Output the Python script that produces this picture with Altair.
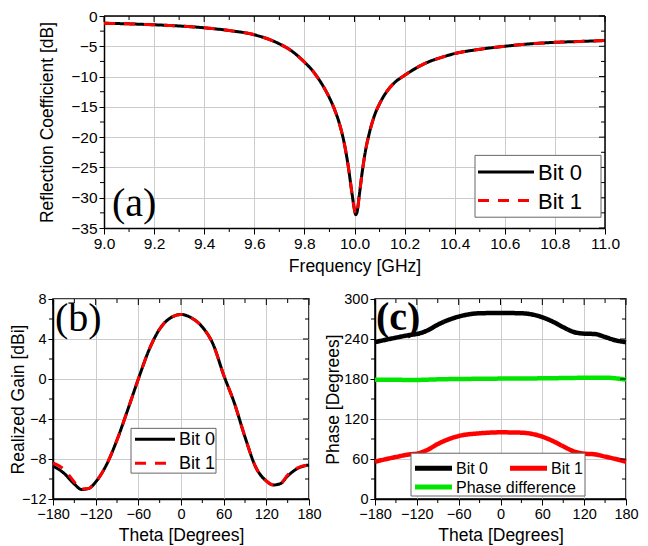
import altair as alt
import pandas as pd

# ---------------- data ----------------
freq = [9.0, 9.1, 9.2, 9.3, 9.4, 9.5, 9.6, 9.7, 9.75, 9.8, 9.83, 9.86, 9.89, 9.92,
        9.94, 9.96, 9.975, 9.99, 10.0, 10.005, 10.01, 10.02, 10.03, 10.045, 10.06,
        10.08, 10.1, 10.13, 10.16, 10.2, 10.25, 10.3, 10.35, 10.4, 10.5, 10.6, 10.7,
        10.8, 10.9, 11.0]
s11_bit0 = [-1.2, -1.3, -1.45, -1.65, -1.95, -2.4, -3.1, -4.6, -5.8, -7.6, -8.9, -10.6,
            -12.7, -15.4, -17.8, -21.2, -24.8, -29.3, -32.0, -32.8, -32.4, -29.3, -26.0,
            -22.0, -19.2, -16.4, -14.5, -12.4, -11.0, -9.8, -8.5, -7.5, -6.8, -6.2, -5.5,
            -5.0, -4.6, -4.35, -4.2, -4.05]
s11_bit1 = list(s11_bit0)

theta = [-180, -165, -150, -140, -130, -120, -105, -90, -75, -60, -45, -30, -15, 0,
         15, 30, 45, 60, 75, 90, 105, 120, 130, 140, 150, 165, 180]
gain_bit0 = [-8.7, -9.4, -10.5, -11.05, -10.95, -10.3, -8.6, -6.1, -3.1, 0.0, 2.9, 5.0,
             6.1, 6.45, 6.1, 5.2, 3.5, 0.4, -2.4, -5.8, -8.8, -10.2, -10.6, -10.45,
             -9.7, -8.9, -8.6]
gain_bit1 = [-8.4, -9.0, -10.3, -11.0, -10.95, -10.3, -8.6, -6.1, -3.1, 0.0, 2.9, 5.0,
             6.1, 6.45, 6.1, 5.2, 3.5, 0.4, -2.4, -5.8, -8.8, -10.2, -10.6, -10.45,
             -9.6, -8.85, -8.6]

phase_theta = [-180, -150, -130, -120, -105, -90, -60, -30, 0, 30, 60, 75, 90, 105,
               120, 135, 150, 165, 180]
phase_bit0 = [235.3, 242.0, 246.0, 247.5, 252.7, 261.5, 273.6, 278.6, 279.0, 278.6,
              272.6, 266.0, 257.7, 250.5, 248.0, 247.5, 243.0, 238.0, 235.3]
phase_bit1 = [56.0, 63.0, 67.0, 68.0, 73.6, 82.5, 94.5, 98.5, 100.0, 99.5, 93.5, 87.0,
              79.0, 71.5, 68.0, 67.0, 63.6, 60.0, 56.0]
phase_diff = [179.0, 178.8, 178.6, 178.6, 179.0, 179.5, 180.0, 180.3, 180.6, 180.8,
              181.0, 181.2, 181.4, 181.6, 182.0, 182.0, 182.0, 181.0, 179.0]

bits = ["Bit 0", "Bit 1"]
phase_series = ["Bit 0", "Bit 1", "Phase difference"]

SANS = "Liberation Sans"
SERIF = "Liberation Serif"


def long_df(xs, series, names):
    rows = []
    for name, ys in zip(names, series):
        for x, y in zip(xs, ys):
            rows.append({"x": x, "y": y, "s": name})
    return pd.DataFrame(rows)


def ticks_layer(vals, channel, scale, axis, ox, w, h, side, length):
    base = alt.Chart(pd.DataFrame({channel: vals})).mark_rule(
        color="black", strokeWidth=1, clip=False)
    if channel == "x":
        enc = dict(x=alt.X("x:Q", scale=scale, axis=axis))
        if side == "bottom":
            enc.update(y=alt.value(h), y2=alt.value(h + length))
        else:
            enc.update(y=alt.value(0), y2=alt.value(length))
    else:
        enc = dict(y=alt.Y("y:Q", scale=scale, axis=axis))
        if side == "left":
            enc.update(x=alt.value(ox - length), x2=alt.value(ox))
        else:
            enc.update(x=alt.value(ox + w - length), x2=alt.value(ox + w))
    return base.encode(**enc)


def legend_layers(entries, box, font_size, sw, sym_len, ox=0):
    """entries: (name, color, dash, sx, sy) in panel pixels"""
    x0, y0, x1, y1 = box
    layers = [alt.Chart(pd.DataFrame({"b": [0]})).mark_rect(
        fill="white", stroke="#666666", strokeWidth=1).encode(
        x=alt.value(ox + x0), x2=alt.value(ox + x1), y=alt.value(y0), y2=alt.value(y1))]
    for name, color, dash, sx, sy in entries:
        layers.append(alt.Chart(pd.DataFrame({"s": [name]})).mark_rule(
            color=color, strokeWidth=sw, strokeDash=dash).encode(
            x=alt.value(ox + sx), x2=alt.value(ox + sx + sym_len), y=alt.value(sy)))
        layers.append(alt.Chart(pd.DataFrame({"s": [name]})).mark_text(
            font=SANS, fontSize=font_size, align="left", baseline="middle",
            color="black").encode(
            x=alt.value(ox + sx + sym_len + 4), y=alt.value(sy + 1), text="s:N"))
    return layers


def panel(df, xdom, ydom, xmaj, xmin, ymaj, ymin, w, h, xtitle, ytitle,
          xfmt, colors, dashes, sw, leg, label, label_pos, label_bold,
          ytitle_pad, lab_size, ox=0):
    if ox:
        xs = alt.Scale(domain=xdom, range=[ox, ox + w], nice=False, zero=False)
    else:
        xs = alt.Scale(domain=xdom, nice=False, zero=False)
    ys = alt.Scale(domain=ydom, nice=False, zero=False)
    xax = alt.Axis(values=xmaj, format=xfmt, grid=True, tickSize=6, titlePadding=6,
                   title=xtitle, labelFontSize=lab_size, labelPadding=2)
    yax = alt.Axis(values=ymaj, grid=True, tickSize=5, format="d",
                   titlePadding=ytitle_pad, title=ytitle, labelFontSize=lab_size,
                   labelPadding=2, offset=-ox)
    names = list(dict.fromkeys(df["s"]))
    lines = alt.Chart(df).mark_line(strokeWidth=sw, interpolate="monotone").encode(
        x=alt.X("x:Q", scale=xs, axis=xax),
        y=alt.Y("y:Q", scale=ys, axis=yax),
        color=alt.Color("s:N", scale=alt.Scale(domain=names, range=colors), legend=None),
        strokeDash=alt.StrokeDash("s:N", scale=alt.Scale(domain=names, range=dashes),
                                  legend=None),
        order=alt.Order("s:N"),
    )
    layers = [lines,
              ticks_layer(xmin, "x", xs, xax, ox, w, h, "bottom", 4),
              ticks_layer(xmaj, "x", xs, xax, ox, w, h, "top", 6),
              ticks_layer(xmin, "x", xs, xax, ox, w, h, "top", 4),
              ticks_layer(ymin, "y", ys, yax, ox, w, h, "left", 4),
              ticks_layer(ymaj, "y", ys, yax, ox, w, h, "right", 6),
              ticks_layer(ymin, "y", ys, yax, ox, w, h, "right", 4)]
    if ox:
        frame = alt.Chart(pd.DataFrame({"f": [0]}))
        layers.append(frame.mark_rule(color="black", strokeWidth=1.5).encode(
            x=alt.value(ox), x2=alt.value(ox + w), y=alt.value(0)))
        layers.append(frame.mark_rule(color="black", strokeWidth=1.5).encode(
            x=alt.value(ox + w), y=alt.value(0), y2=alt.value(h)))
    layers += leg
    txt = alt.Chart(pd.DataFrame({"t": [label]})).mark_text(
        font=SERIF, fontSize=40, align="left", baseline="middle",
        fontWeight="bold" if label_bold else "normal").encode(
        x=alt.value(ox + label_pos[0]), y=alt.value(label_pos[1]), text="t:N")
    layers.append(txt)
    ch = alt.layer(*layers).properties(width=w + ox, height=h)
    if ox:
        ch = ch.properties(view=alt.ViewBackground(stroke="transparent"))
    return ch


# ----- (a) -----
OA = 51
HA = 212
sa = HA / 216.0
df_a = long_df(freq, [s11_bit0, s11_bit1], bits)
leg_a = legend_layers([("Bit 0", "black", [1, 0], 374, 159 * sa),
                       ("Bit 1", "red", [11, 9], 374, 188 * sa)],
                      (371, 142 * sa, 497, 205 * sa), 22, 3, 56, ox=OA)
pa = panel(df_a, [9.0, 11.0], [-35, 0],
           [round(9.0 + 0.2 * i, 1) for i in range(11)],
           [round(9.1 + 0.2 * i, 1) for i in range(10)],
           [0, -5, -10, -15, -20, -25, -30, -35], [-2.5 - 5 * i for i in range(7)],
           501, HA, "Frequency [GHz]", "Reflection Coefficient [dB]", ".1f",
           ["black", "red"], [[1, 0], [11, 9]], 3, leg_a, "(a)", (8, 192 * sa), False,
           14, 15.5, ox=OA)

# ----- (b) -----
HB = 200
WB = 256
sb = HB / 201.0
df_b = long_df(theta, [gain_bit0, gain_bit1], bits)
leg_b = legend_layers([("Bit 0", "black", [1, 0], 82, 141 * sb),
                       ("Bit 1", "red", [11, 9], 82, 165 * sb)],
                      (78, 130 * sb, 163, 175 * sb), 18, 3, 40)
pb = panel(df_b, [-180, 180], [-12, 8],
           [-180, -120, -60, 0, 60, 120, 180], [-150, -90, -30, 30, 90, 150],
           [8, 4, 0, -4, -8, -12], [6, 2, -2, -6, -10],
           WB, HB, "Theta [Degrees]", "Realized Gain [dBi]", "d",
           ["black", "red"], [[1, 0], [11, 9]], 3, leg_b, "(b)", (2, 20), False,
           -6, 14.5)

# ----- (c) -----
WC = 251
df_c = long_df(phase_theta, [phase_bit0, phase_bit1, phase_diff], phase_series)
leg_c = legend_layers([("Bit 0", "black", [1, 0], 40, 170 * sb),
                       ("Bit 1", "red", [1, 0], 135, 170 * sb),
                       ("Phase difference", "#00e600", [1, 0], 40, 189 * sb)],
                      (36, 155 * sb, 210, 198 * sb), 16, 5, 37)
pc = panel(df_c, [-180, 180], [0, 300],
           [-180, -120, -60, 0, 60, 120, 180], [-150, -90, -30, 30, 90, 150],
           [0, 60, 120, 180, 240, 300], [30, 90, 150, 210, 270],
           WC, HB, "Theta [Degrees]", "Phase [Degrees]", "d",
           ["black", "red", "#00e600"], [[1, 0], [1, 0], [1, 0]], 4.5, leg_c, "(c)",
           (1, 19), True, 1, 14.5)

bottom = alt.hconcat(pb, pc, spacing=2).resolve_scale(color="independent",
                                                      strokeDash="independent")
chart = alt.vconcat(pa, bottom, spacing=14).resolve_scale(
    color="independent", strokeDash="independent").configure(
    font=SANS, padding={"left": 0, "top": 0, "right": 0, "bottom": 0}
).configure_view(stroke="black", strokeWidth=1.5).configure_axis(
    labelFont=SANS, titleFont=SANS, titleFontSize=17.5,
    labelColor="black", titleColor="black", titleFontWeight="normal",
    domainColor="black", tickColor="black", gridColor="#cccccc", gridWidth=1,
    domainWidth=1.5, labelFlush=False
)

chart.save("out.html", embed_options={"renderer": "svg", "actions": False})
